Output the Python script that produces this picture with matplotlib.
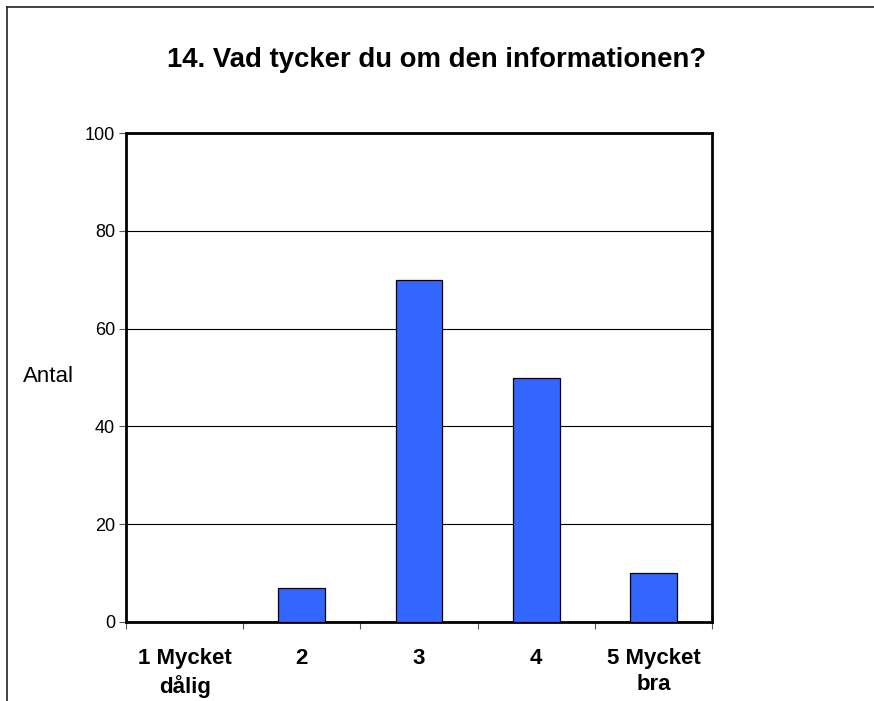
import matplotlib.pyplot as plt
from matplotlib.lines import Line2D

categories = ['1 Mycket\ndålig', '2', '3', '4', '5 Mycket\nbra']
antal = [0, 7, 70, 50, 10]
yticks = [0, 20, 40, 60, 80, 100]

plt.rcParams['font.family'] = ['Liberation Sans', 'DejaVu Sans']

W, H = 874, 701
fig = plt.figure(figsize=(W / 100, H / 100), dpi=100)
fig.patch.set_facecolor('white')

# plot area in pixel coords of the reference
left, right, top, bottom = 126, 712, 133, 622
ax = fig.add_axes([left / W, (H - bottom) / H, (right - left) / W, (bottom - top) / H])

xx = range(1, len(antal) + 1)
ax.bar(xx, antal, width=0.4, color='#3366FF', edgecolor='black', linewidth=0.9, zorder=3)

ax.set_xlim(0.5, 5.5)
ax.set_ylim(0, 100)
ax.set_yticks(yticks)
ax.set_yticklabels([str(v) for v in yticks], fontsize=13)
ax.grid(True, axis='y', color='black', linewidth=0.8, zorder=1)

# category boundaries get the tick marks, labels sit at the centres
ax.set_xticks([0.5, 1.5, 2.5, 3.5, 4.5, 5.5])
ax.set_xticklabels([])
ax.set_xticks(list(xx), minor=True)
ax.set_xticklabels(categories, minor=True, fontsize=16, fontweight='bold', linespacing=1.3)
ax.tick_params(axis='x', which='major', length=5, width=0.8, color='#555555', direction='out')
ax.tick_params(axis='x', which='minor', length=0, pad=19)
ax.tick_params(axis='y', length=5, width=0.8, color='#555555', pad=3)

for s in ax.spines.values():
    s.set_linewidth(2)
    s.set_color('black')

fig.text(0.5, 1 - 60 / H, '14. Vad tycker du om den informationen?', ha='center', va='center',
         fontsize=19.8, fontweight='bold')
fig.text(48 / W, 1 - 376 / H, 'Antal', ha='center', va='center', fontsize=16)

# chart area border (only top and left are visible in the crop)
fig.add_artist(Line2D([7 / W, 1], [1 - 7 / H, 1 - 7 / H], transform=fig.transFigure,
                      color='#222222', linewidth=1.2))
fig.add_artist(Line2D([7 / W, 7 / W], [0, 1 - 7 / H], transform=fig.transFigure,
                      color='#222222', linewidth=1.2))

fig.savefig('out.png', dpi=100)
